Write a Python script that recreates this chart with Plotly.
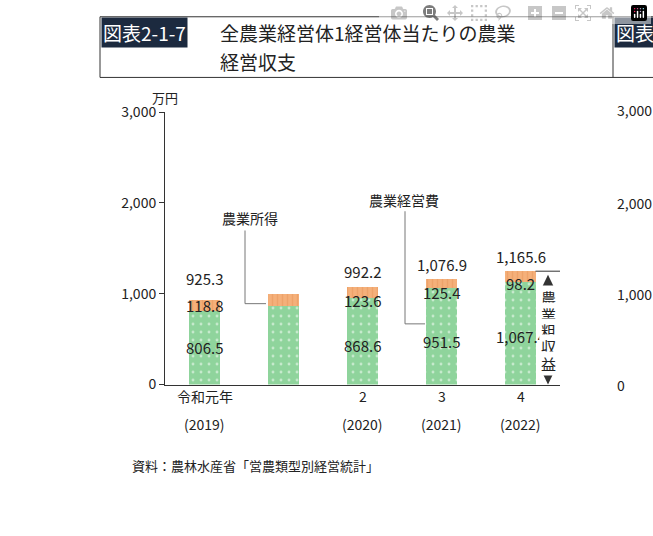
import plotly.graph_objects as go

categories = ["令和元年", "2", "3", "4", "5"]
years = ["(2019)", "(2020)", "(2021)", "(2022)", "(2023)"]
keihi = [806.5, 868.6, 951.5, 1067.4, 1133.7]
shotoku = [118.8, 123.6, 125.4, 98.2, 114.2]
total = [925.3, 992.2, 1076.9, 1165.6, 1247.9]
yticks = [0, 1000, 2000, 3000]

F = "Noto Sans CJK JP"
W, H = 653, 536
def px(x): return x / W
def py(y): return 1 - y / H

fig = go.Figure()
fig.add_bar(x=categories, y=keihi, width=0.38, marker=dict(color="#8fd49c", line=dict(width=0),
            pattern=dict(shape=".", fgcolor="white", size=8, solidity=0.1)), hoverinfo="skip")
fig.add_bar(x=categories, y=shotoku, width=0.38, marker=dict(color="#f5b07a", line=dict(width=0),
            pattern=dict(shape="|", fgcolor="#e8955a", size=5, solidity=0.3)), hoverinfo="skip")

ann = []
for i, c in enumerate(categories):
    ann.append(dict(x=c, y=keihi[i] / 2, text=f"{keihi[i]:,.1f}", showarrow=False, xref="x", yref="y",
                    xshift=(-12 if i == 4 else 0), font=dict(size=15, color="#222")))
    ann.append(dict(x=c, y=keihi[i] + shotoku[i] / 2, text=f"{shotoku[i]:,.1f}", showarrow=False, xref="x", yref="y",
                    font=dict(size=15, color="#222")))
    ann.append(dict(x=c, y=total[i] + 110, text=f"{total[i]:,.1f}", showarrow=False, xref="x", yref="y",
                    yanchor="bottom", font=dict(size=15, color="#222")))
    ann.append(dict(x=c, y=py(412), text=c, showarrow=False, xref="x", yref="paper",
                    font=dict(family=F, size=14, color="#222")))
    ann.append(dict(x=c, y=py(441), text=years[i], showarrow=False, xref="x", yref="paper",
                    font=dict(family=F, size=14, color="#222")))

def t(x, y, s, size=14, xa="left", ya="middle", color="#222", **kw):
    ann.append(dict(x=px(x), y=py(y), xref="paper", yref="paper", text=s, showarrow=False,
                    xanchor=xa, yanchor=ya, font=dict(family=F, size=size, color=color), **kw))

t(150, 90, "万円", 13)
t(220, 215, "農業所得", 14)
t(367, 196, "農業経営費", 14)
t(130, 472, "資料：農林水産省「営農類型別経営統計」", 13)
t(101, 22, "図表2-1-7", 19, color="white", bgcolor="#1c2a3f")
t(218, 22, "全農業経営体1経営体当たりの農業", 19)
t(218, 52, "経営収支", 19)
t(614, 22, "図表", 19, color="white", bgcolor="#1c2a3f")
for v, yy in [("3,000", 103), ("2,000", 199), ("1,000", 294), ("0", 388)]:
    t(615, yy, v, 14)
for k, ch in enumerate("農業粗収益"):
    t(548, 298 + k * 17, ch, 15, xa="center", bgcolor="white")

shapes = [
    dict(type="line", xref="paper", yref="paper", x0=px(100), x1=px(653), y0=py(6), y1=py(6), line=dict(color="#333", width=1)),
    dict(type="line", xref="paper", yref="paper", x0=px(100), x1=px(653), y0=py(69), y1=py(69), line=dict(color="#333", width=1)),
    dict(type="line", xref="paper", yref="paper", x0=px(100), x1=px(100), y0=py(6), y1=py(69), line=dict(color="#333", width=1)),
    dict(type="line", xref="paper", yref="paper", x0=px(613), x1=px(613), y0=py(6), y1=py(69), line=dict(color="#333", width=1)),
    dict(type="path", xref="paper", yref="paper", path=f"M {px(245)} {py(228)} L {px(245)} {py(304)} L {px(266)} {py(304)}",
         line=dict(color="#777", width=1)),
    dict(type="path", xref="paper", yref="paper", path=f"M {px(405)} {py(208)} L {px(405)} {py(325)} L {px(425)} {py(325)}",
         line=dict(color="#777", width=1)),
    dict(type="line", xref="x", yref="y", x0=4.19, x1=4.5, y0=total[4], y1=total[4], line=dict(color="#333", width=1)),
    dict(type="line", xref="paper", yref="paper", x0=px(548), x1=px(548), y0=py(285), y1=py(378), line=dict(color="#555", width=1),
         layer="below"),
    dict(type="path", xref="paper", yref="paper", fillcolor="#333", line=dict(width=0),
         path=f"M {px(542)} {py(287)} L {px(554)} {py(287)} L {px(548)} {py(274)} Z"),
    dict(type="path", xref="paper", yref="paper", fillcolor="#333", line=dict(width=0),
         path=f"M {px(542)} {py(375)} L {px(554)} {py(375)} L {px(548)} {py(388)} Z"),
]

fig.update_layout(
    width=W, height=H, margin=dict(l=0, r=0, t=0, b=0), barmode="stack", showlegend=False,
    plot_bgcolor="white", paper_bgcolor="white", font=dict(family=F, size=14, color="#222"),
    xaxis=dict(domain=[px(165), px(560)], range=[-0.5, 4.5], showline=True, linecolor="#333",
               ticks="", showticklabels=False, fixedrange=True),
    yaxis=dict(domain=[py(388), py(105)], range=[0, 3000], tickvals=yticks, ticktext=["0", "1,000", "2,000", "3,000"],
               showline=True, linecolor="#333", ticks="outside", ticklen=5, tickcolor="#333",
               showgrid=False, zeroline=False, tickfont=dict(size=14)),
    annotations=ann, shapes=shapes,
)
fig.write_html("out.html")
with open("out.html", encoding="utf-8") as f:
    html = f.read()
html = html.replace("<head>", "<head><style>html,body{margin:0;padding:0;overflow:hidden}</style>", 1)
with open("out.html", "w", encoding="utf-8") as f:
    f.write(html)
